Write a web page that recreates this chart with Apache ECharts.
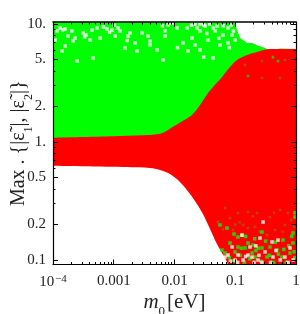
<!DOCTYPE html>
<html><head><meta charset="utf-8">
<style>html,body{margin:0;padding:0;background:#fff}#c{width:300px;height:314px}</style>
<script src="https://cdn.jsdelivr.net/npm/echarts@6/dist/echarts.min.js"></script>
</head><body><div id="c"></div>
<script>
const xTicks=[0.0001,0.001,0.01,0.1,1];
const xTickLabels=['{b|10}{s|−4}','0.001','0.01','0.1','1'];
const xMinor=[0.0002,0.0003,0.0004,0.0005,0.0006,0.0007,0.0008,0.0009,0.002,0.003,0.004,0.005,0.006,0.007,0.008,0.009,0.02,0.03,0.04,0.05,0.06,0.07,0.08,0.09,0.2,0.3,0.4,0.5,0.6,0.7,0.8,0.9];
const yTicks=[0.1,0.2,0.5,1,2,5,10];
const yTickLabels=['0.1','0.2','0.5','1.','2.','5.','10.'];
const yMinor=[0.3,0.4,0.6,0.7,0.8,0.9,3,4,6,7,8,9];
// green region: upper envelope
const greenX=[0.0001,0.099,0.107,0.12,0.14,0.156,0.19,0.228,0.30,0.373,0.55,1];
const greenY=[10.4,10.2,8.9,7.6,7.2,6.9,6.9,6.6,6.3,6.0,6.2,6.14];
// red region: upper envelope
const redX=[0.0001,0.00395,0.00647,0.00944,0.0138,0.0194,0.0263,0.0356,0.043,0.0605,0.082,0.107,0.156,0.228,0.373,1];
const redY=[1.087,1.146,1.199,1.348,1.515,1.694,2.059,2.60,2.93,3.556,4.32,4.95,5.46,5.79,6.14,6.14];
// lower edge of the red region (white below)
const lowX=[0.0001,0.00165,0.00395,0.00577,0.00843,0.0123,0.018,0.0234,0.0294,0.0384,0.05,0.0705,0.076];
const lowY=[0.63,0.614,0.602,0.579,0.535,0.458,0.3625,0.298,0.245,0.183,0.1367,0.1,0.0916];
// speckles, as [log10 m0, log10 eps]
const whiteTop=[[-3.885,.966],[-3.802,.958],[-3.506,.924],[-3.457,.907],[-3.111,.958],[-3.029,.949],[-3.276,.966],[-3.358,.949],[-3.753,.898],[-3.638,.881],[-3.934,.941],[-3.391,.864],[-3.852,.771],[-3.671,.856],[-3.226,.881],[-2.979,.898],[-3.342,.712],[-3.605,.686],[-3.967,.864],[-3.802,.814],
[-2.93,.966],[-2.733,.924],[-2.765,.898],[-2.403,.856],[-2.403,.822],[-2.156,.941],[-2.156,.898],[-2.107,.992],[-2.65,.839],[-2.815,.797],[-2.288,.78],[-2.189,.695],[-2.617,.771],[-2.897,.941],[-1.959,.966],[-2.041,1.008],[-2.436,.898],[-2.535,.924],
[-1.63,.966],[-1.498,.983],[-1.366,.966],[-1.3,.983],[-1.119,.966],[-1.053,.907],[-1.202,.907],[-1.794,.966],[-1.333,.941],[-1.58,.941],[-1.712,.881],[-1.449,.864],[-1.251,.822],[-1.58,.78],[-1.778,.771],[-1.366,.712],[-1.119,.839],[-1.86,.839],[-1.004,.864],[-1.663,.822],[-1.663,1.0],[-1.58,1.0],[-1.52,.992],
[-3.84,.95],[-3.17,.975],[-3.07,.93],[-3.69,.94],[-3.48,.89],[-2.99,.99],[-2.78,.86],[-2.2,.985],[-1.72,.99],[-1.42,1.0],[-1.2,.985],[-1.07,.99],[-1.03,.94],[-1.27,.88],[-1.47,.92],[-1.1,.8],[-1.52,.72],[-1.95,.8]];
const greenBottom=[[-1.136,-.729],[-.955,-.805],[-1.086,-.856],[-.955,-.89],[-1.218,-.915],[-1.169,-.941],[-.84,-.898],[-.79,-.856],[-1.004,-.932],[-.724,-.941],[-.889,-.788],[-1.251,-.703],[-.708,-.873],[-.56,-.898],[-.428,-.89],[-.313,-.915],[-.214,-.831],[-.049,-.856],[-.016,-.636],[-.099,-.941],[-.675,-.975],[-.477,-.975],[-.23,-.975],[-.56,-.763],[-.049,-.771],[-.016,-.6],
[-1.1,-.98],[-1.03,-1.01],[-.92,-.96],[-.85,-1.02],[-.76,-.99],[-.66,-.92],[-.58,-1.01],[-.44,-.96],[-.37,-1.02],[-.29,-.95],[-.16,-1.02],[-.12,-.88],[-.03,-.93],[-.02,-.98],[-.34,-.85],[-.5,-.84],[-.68,-.82],[-.83,-.8],[-1.02,-.78],[-.62,-.9],[-.2,-.91],[-.9,-.9],[-.07,-.8]];
const whiteBottom=[[-.889,-.79],[-1.053,-.89],[-.955,-.958],[-.79,-.958],[-1.119,-.958],[-1.004,-1.0],[-.872,-1.0],[-.757,-.89],[-1.169,-.975],[-.543,-.678],[-.395,-.847],[-.724,-.975],[-.626,-1.0],[-.51,-.932],[-.379,-.975],[-.181,-.975],[-.049,-1.0],[-.593,-.814],[-.296,-.831],[-.099,-.898],
[-.96,-1.02],[-.83,-.97],[-.69,-1.02],[-.61,-.96],[-.56,-1.02],[-.42,-1.02],[-.26,-1.0],[-.13,-1.02],[-.33,-.92],[-.66,-.88],[-1.08,-1.01]];
const oliveMix=[[-1.284,-.678],[-1.037,-.746],[-.872,-.703],[-.79,-.729],[-1.169,-.559],[-.955,-.602],[-.79,-.593],[-1.086,-.644],[-.642,-.602],[-.428,-.636],[-.263,-.576],[-.132,-.602],[-.675,-.72],[-.346,-.746],[-.181,-.703],[-.477,-.788],[-.379,.712],[-.296,.686],[-.181,.695],[-.56,.686],[-.263,.542],[-.56,.542],[-.84,.653],
[-1.2,-.74],[-.93,-.68],[-.71,-.63],[-.55,-.68],[-.36,-.6],[-.08,-.66],[-.03,-.72],[-.22,-.76],[-.6,-.76],[-1.0,-.7]];
const greenInRed=[[-.79,.559],[-.296,.686],[-.379,.72]];

const zip=(a,b)=>a.map((v,i)=>[v,b[i]]);
const pow=a=>a.map(p=>[10**p[0],10**p[1]]);
const font='"Liberation Serif"';
const XMIN=0.0001,XMAX=1,YMIN=0.0916,YMAX=10.4;
const base={type:'log',logBase:10,min:XMIN,max:XMAX,z:10,splitLine:{show:false},minorTick:{show:false},minorSplitLine:{show:false}};
const yBase={...base,min:YMIN,max:YMAX};
const line={show:true,lineStyle:{color:'#000',width:1.2}};
const noLine={show:false};
const tick=(vals,len)=>({show:true,inside:true,length:len,customValues:vals,lineStyle:{color:'#000',width:1}});
const area=(d,color,z,smooth)=>({type:'line',data:d,symbol:'none',z,silent:true,smooth:smooth||false,lineStyle:{width:0},areaStyle:{color,opacity:1,origin:'start'},xAxisIndex:0,yAxisIndex:0,animation:false});
const dots=(d,color,size,z)=>({type:'scatter',data:pow(d),symbol:'rect',symbolSize:size,z,silent:true,itemStyle:{color},xAxisIndex:0,yAxisIndex:0,animation:false});
const chart=echarts.init(document.getElementById('c'),null,{renderer:'canvas'});
chart.setOption({
 animation:false,backgroundColor:'#fff',
 grid:{left:53,top:22,width:243,height:242.5,containLabel:false,outerBoundsMode:'none'},
 xAxis:[
  {...base,position:'bottom',axisLine:line,axisTick:tick(xTicks,5),
   axisLabel:{show:true,customValues:xTicks,margin:9,fontFamily:font,fontSize:15,color:'#222',hideOverlap:false,showMinLabel:true,showMaxLabel:true,
    formatter:v=>xTickLabels[xTicks.findIndex(t=>Math.abs(Math.log10(t)-Math.log10(v))<1e-6)],
    rich:{b:{fontFamily:font,fontSize:15,color:'#222'},s:{fontFamily:font,fontSize:11,color:'#222',verticalAlign:'bottom',padding:[0,0,6,1]}}},
   name:'{i|m}{u|0}{r|[eV]}',nameLocation:'middle',nameGap:27,nameMoveOverlap:false,
   nameTextStyle:{rich:{i:{fontFamily:font,fontStyle:'italic',fontSize:21,color:'#222'},u:{fontFamily:font,fontSize:13,color:'#222',verticalAlign:'bottom',padding:[0,2,-6,0]},r:{fontFamily:font,fontSize:21,color:'#222'}}}},
  {...base,position:'bottom',axisLine:noLine,axisTick:tick(xMinor,2.5),axisLabel:{show:false}},
  {...base,position:'top',axisLine:{show:true,lineStyle:{color:'#000',width:1.6}},axisTick:tick(xTicks,5),axisLabel:{show:false}},
  {...base,position:'top',axisLine:noLine,axisTick:tick(xMinor,2.5),axisLabel:{show:false}}
 ],
 yAxis:[
  {...yBase,position:'left',axisLine:line,axisTick:tick(yTicks,5),
   axisLabel:{show:true,customValues:yTicks,margin:7,fontFamily:font,fontSize:15,color:'#222',hideOverlap:false,showMinLabel:true,showMaxLabel:true,
    formatter:v=>yTickLabels[yTicks.findIndex(t=>Math.abs(Math.log10(t)-Math.log10(v))<1e-6)]},
   name:'{r|Max . {|}{e|ε̃}{u|1}{r||, |}{e|ε̃}{u|2}{r||}}',nameLocation:'middle',nameGap:24,nameRotate:90,nameMoveOverlap:false,
   nameTextStyle:{fontFamily:font,fontSize:20,color:'#222',rich:{r:{fontFamily:font,fontSize:20,color:'#222'},e:{fontFamily:font,fontSize:20,color:'#222'},u:{fontFamily:font,fontSize:12,color:'#222',verticalAlign:'bottom',padding:[0,0,-6,0]}}}},
  {...yBase,position:'left',axisLine:noLine,axisTick:tick(yMinor,2.5),axisLabel:{show:false}},
  {...yBase,position:'right',axisLine:line,axisTick:tick(yTicks,5),axisLabel:{show:false}},
  {...yBase,position:'right',axisLine:noLine,axisTick:tick(yMinor,2.5),axisLabel:{show:false}}
 ],
 series:[
  area(zip(greenX,greenY),'#00ff00',1),
  area(zip(redX,redY),'#ff0000',2,0.3),
  area(zip(lowX,lowY),'#ffffff',3,0.3),
  dots(whiteTop,'#ffffff',3.5,4),
  dots(oliveMix,'#a85a00',2.5,4),
  dots(greenInRed,'#22cc00',2.5,5),
  dots(greenBottom,'#00ff00',3.5,5),
  dots(whiteBottom,'#ffffff',3.5,6)
 ]
});
</script></body></html>
